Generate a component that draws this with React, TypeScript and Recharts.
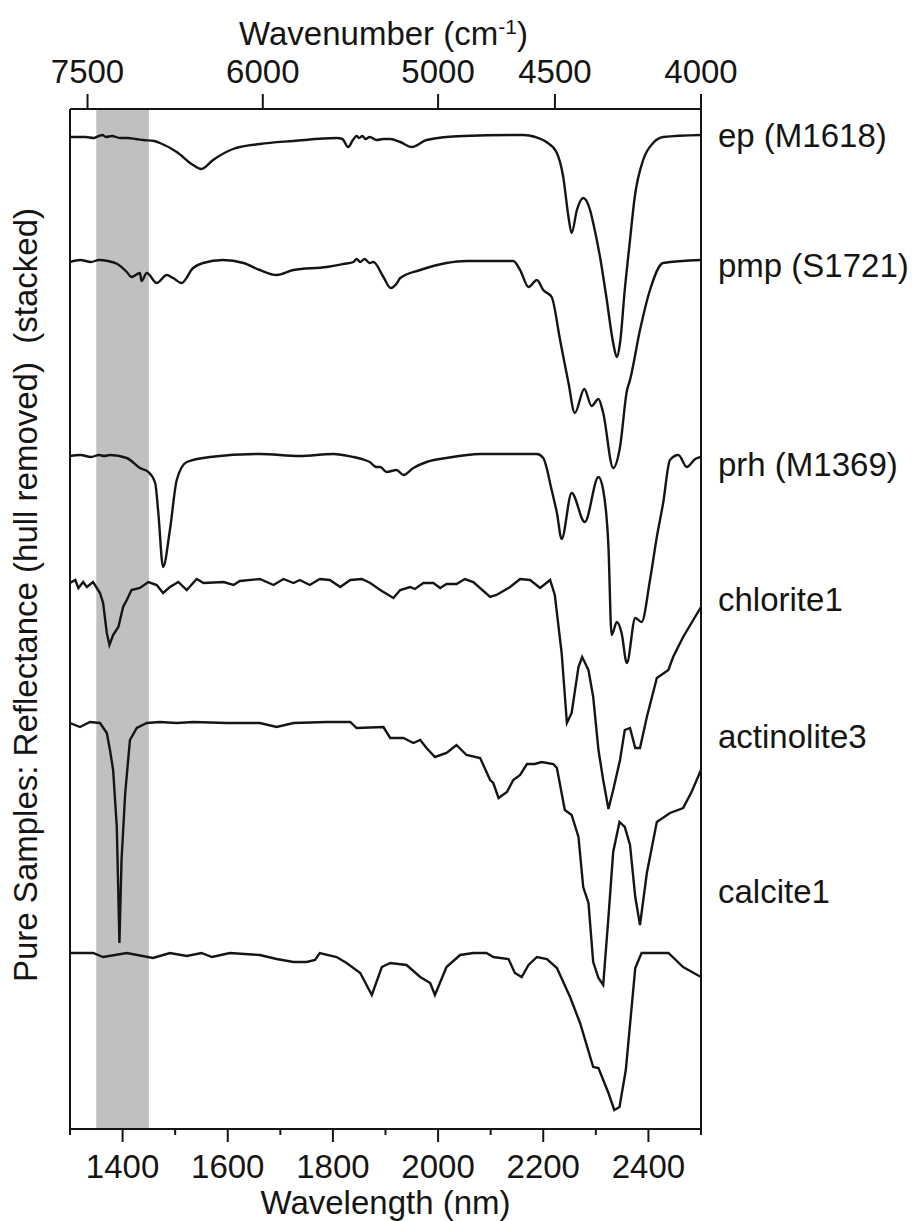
import React from 'react';
import { LineChart, Line, XAxis, YAxis, ReferenceArea, ReferenceDot } from 'recharts';

const FONT = '"Liberation Sans", Arial, Helvetica, sans-serif';
const INK = '#151515';

// ─── Data (wavelength nm, stacked hull-removed reflectance) ─────────────────

const ep: [number, number][] = [
    [1300, 9.92], [1315, 9.92], [1330, 9.92], [1345, 9.91], [1355, 9.93], [1362, 9.94], [1368, 9.92],
    [1380, 9.93], [1395, 9.91], [1410, 9.91], [1425, 9.9], [1440, 9.89], [1460, 9.88], [1471, 9.86],
    [1503, 9.77], [1534, 9.64], [1550, 9.6], [1572, 9.69], [1610, 9.8], [1661, 9.85], [1725, 9.88],
    [1807, 9.91], [1818, 9.9], [1829, 9.82], [1838, 9.89], [1845, 9.93], [1850, 9.91], [1856, 9.93],
    [1862, 9.9], [1870, 9.92], [1883, 9.89], [1896, 9.9], [1909, 9.9], [1928, 9.87], [1950, 9.82],
    [1978, 9.89], [2048, 9.93], [2162, 9.94], [2185, 9.92], [2206, 9.87], [2225, 9.77], [2238, 9.52],
    [2248, 9.12], [2254, 8.96], [2264, 9.19], [2276, 9.31], [2289, 9.19], [2295, 9.06], [2308, 8.72],
    [2320, 8.32], [2333, 7.86], [2340, 7.72], [2346, 7.86], [2355, 8.39], [2365, 8.89], [2374, 9.32],
    [2390, 9.69], [2409, 9.86], [2428, 9.92], [2500, 9.94],
];

const pmp: [number, number][] = [
    [1300, 8.67], [1320, 8.69], [1340, 8.67], [1355, 8.69], [1372, 8.68], [1390, 8.65], [1408, 8.57],
    [1417, 8.52], [1433, 8.56], [1436, 8.48], [1446, 8.56], [1465, 8.46], [1484, 8.54], [1496, 8.51],
    [1512, 8.46], [1534, 8.61], [1553, 8.66], [1591, 8.69], [1630, 8.66], [1661, 8.59], [1693, 8.54],
    [1725, 8.59], [1788, 8.62], [1820, 8.65], [1839, 8.67], [1845, 8.7], [1852, 8.67], [1860, 8.7],
    [1870, 8.66], [1877, 8.67], [1896, 8.52], [1910, 8.41], [1922, 8.46], [1928, 8.51], [1966, 8.59],
    [2016, 8.66], [2054, 8.68], [2143, 8.68], [2156, 8.59], [2172, 8.42], [2188, 8.49], [2200, 8.39],
    [2216, 8.32], [2232, 7.89], [2248, 7.46], [2260, 7.16], [2278, 7.4], [2292, 7.23], [2305, 7.3],
    [2314, 7.16], [2333, 6.61], [2346, 6.82], [2359, 7.38], [2365, 7.49], [2384, 7.99], [2403, 8.39],
    [2428, 8.66], [2500, 8.69],
];

const prh: [number, number][] = [
    [1300, 6.73], [1320, 6.74], [1340, 6.72], [1355, 6.74], [1365, 6.73], [1376, 6.74], [1408, 6.71],
    [1433, 6.61], [1449, 6.57], [1462, 6.46], [1468, 6.16], [1477, 5.62], [1490, 5.99], [1503, 6.49],
    [1522, 6.67], [1566, 6.72], [1661, 6.75], [1737, 6.73], [1801, 6.75], [1839, 6.72], [1855, 6.7],
    [1870, 6.67], [1883, 6.62], [1890, 6.62], [1902, 6.57], [1921, 6.59], [1934, 6.54], [1953, 6.61],
    [1978, 6.67], [2016, 6.71], [2080, 6.75], [2188, 6.75], [2200, 6.71], [2216, 6.39], [2226, 6.16],
    [2235, 5.9], [2254, 6.36], [2279, 6.07], [2305, 6.52], [2314, 6.39], [2324, 5.82], [2330, 4.94],
    [2340, 5.07], [2349, 4.96], [2359, 4.66], [2375, 5.11], [2387, 5.07], [2403, 5.49], [2416, 5.92],
    [2428, 6.26], [2441, 6.69], [2457, 6.74], [2473, 6.62], [2489, 6.7], [2500, 6.72],
];

const chlorite1: [number, number][] = [
    [1300, 5.46], [1310, 5.49], [1316, 5.41], [1325, 5.47], [1332, 5.42], [1344, 5.47], [1357, 5.36],
    [1363, 5.26], [1370, 4.96], [1375, 4.84], [1382, 4.94], [1392, 5.02], [1401, 5.22], [1408, 5.29],
    [1417, 5.39], [1433, 5.41], [1449, 5.47], [1465, 5.44], [1477, 5.36], [1490, 5.42], [1506, 5.47],
    [1522, 5.39], [1541, 5.5], [1554, 5.46], [1592, 5.47], [1611, 5.44], [1623, 5.48], [1661, 5.5],
    [1687, 5.44], [1706, 5.5], [1725, 5.46], [1737, 5.49], [1756, 5.44], [1775, 5.5], [1794, 5.49],
    [1814, 5.42], [1833, 5.49], [1855, 5.5], [1871, 5.46], [1890, 5.39], [1915, 5.31], [1928, 5.39],
    [1947, 5.42], [1956, 5.4], [1972, 5.46], [1991, 5.46], [2004, 5.41], [2016, 5.45], [2035, 5.45],
    [2051, 5.5], [2067, 5.47], [2099, 5.32], [2111, 5.34], [2137, 5.42], [2156, 5.5], [2175, 5.49],
    [2194, 5.41], [2213, 5.49], [2222, 5.34], [2235, 4.76], [2245, 4.06], [2254, 4.16], [2267, 4.62],
    [2274, 4.72], [2286, 4.59], [2295, 4.32], [2305, 3.79], [2314, 3.49], [2324, 3.2], [2333, 3.39],
    [2346, 3.69], [2355, 3.99], [2365, 4.01], [2375, 3.81], [2384, 3.81], [2397, 4.12], [2416, 4.51],
    [2438, 4.59], [2447, 4.72], [2466, 4.92], [2500, 5.22],
];

const actinolite3: [number, number][] = [
    [1300, 4.06], [1319, 4.02], [1338, 4.07], [1357, 4.06], [1370, 3.96], [1376, 3.79], [1382, 3.59],
    [1389, 3.02], [1394, 1.86], [1398, 2.69], [1405, 3.36], [1414, 3.89], [1427, 4.01], [1446, 4.06],
    [1471, 4.07], [1503, 4.06], [1535, 4.07], [1598, 4.06], [1661, 4.06], [1693, 4.02], [1725, 4.06],
    [1788, 4.07], [1833, 4.07], [1845, 4.01], [1896, 4.02], [1909, 3.91], [1934, 3.91], [1953, 3.86],
    [1966, 3.89], [1978, 3.81], [1994, 3.72], [2016, 3.76], [2035, 3.84], [2054, 3.74], [2080, 3.71],
    [2099, 3.49], [2105, 3.46], [2115, 3.31], [2131, 3.37], [2143, 3.49], [2156, 3.54], [2169, 3.65],
    [2184, 3.65], [2197, 3.67], [2219, 3.65], [2226, 3.61], [2241, 3.19], [2254, 3.14], [2267, 2.92],
    [2276, 2.42], [2286, 2.26], [2295, 1.67], [2305, 1.51], [2314, 1.44], [2324, 2.12], [2333, 2.77],
    [2345, 3.07], [2355, 3.02], [2365, 2.84], [2375, 2.32], [2384, 2.04], [2397, 2.56], [2416, 3.07],
    [2441, 3.16], [2466, 3.21], [2482, 3.37], [2500, 3.59],
];

const calcite1: [number, number][] = [
    [1300, 1.76], [1344, 1.76], [1363, 1.72], [1408, 1.76], [1458, 1.71], [1490, 1.76], [1522, 1.73],
    [1550, 1.76], [1570, 1.72], [1604, 1.76], [1661, 1.74], [1693, 1.7], [1725, 1.67], [1750, 1.67],
    [1766, 1.69], [1775, 1.76], [1807, 1.72], [1826, 1.66], [1852, 1.56], [1874, 1.34], [1893, 1.62],
    [1909, 1.66], [1940, 1.64], [1966, 1.52], [1985, 1.46], [1994, 1.34], [2016, 1.62], [2042, 1.74],
    [2067, 1.76], [2092, 1.76], [2105, 1.72], [2134, 1.7], [2146, 1.56], [2159, 1.52], [2172, 1.64],
    [2188, 1.72], [2207, 1.7], [2226, 1.61], [2251, 1.32], [2270, 1.06], [2295, 0.62], [2305, 0.61],
    [2324, 0.36], [2335, 0.19], [2345, 0.22], [2357, 0.59], [2375, 1.61], [2387, 1.76], [2438, 1.76],
    [2466, 1.62], [2500, 1.52],
];

const sampleNames = ['ep (M1618)', 'pmp (S1721)', 'prh (M1369)', 'chlorite1', 'actinolite3', 'calcite1'];
const labelLevels = [9.93, 8.63, 6.64, 5.29, 3.92, 2.37];
const smoothCurve = [true, true, true, false, false, false];

const wavelengthTicks = [1300, 1400, 1500, 1600, 1700, 1800, 1900, 2000, 2100, 2200, 2300, 2400, 2500];
const wavenumberTicks = [7500, 6000, 5000, 4500, 4000];
const waterBand = [1350, 1450];

const spectra = [ep, pmp, prh, chlorite1, actinolite3, calcite1].map((pts, i) => ({
    name: sampleNames[i],
    curve: smoothCurve[i] ? 'monotone' : 'linear',
    labelY: labelLevels[i],
    data: pts.map(([nm, r]) => ({ nm, r })),
}));

// ─── Ticks ────────────────────────────────────────────────────────────────────

const textStyle = { fontFamily: FONT, fontSize: 33, fill: INK };

const BottomTick = (props: any) => {
    const { x, y, payload } = props;
    const major = payload.value % 200 === 0;
    return (
        <g>
            <line x1={x} x2={x} y1={y} y2={y + (major ? 13 : 6)} stroke={INK} strokeWidth={2} />
            {major && (
                <text x={x} y={y + 49} textAnchor="middle" {...textStyle}>
                    {payload.value}
                </text>
            )}
        </g>
    );
};

const TopTick = (props: any) => {
    const { x, y, payload } = props;
    return (
        <g>
            <line x1={x} x2={x} y1={y} y2={y - 15} stroke={INK} strokeWidth={2} />
            <text x={x} y={y - 26} textAnchor="middle" {...textStyle}>
                {Math.round(1e7 / payload.value)}
            </text>
        </g>
    );
};

// ─── Component ────────────────────────────────────────────────────────────────

export default function App() {
    return (
        <div style={{ position: 'absolute', left: 0, top: 0, width: 912, height: 1221, background: '#fff' }}>
            <LineChart width={912} height={1221} margin={{ top: 69, right: 201, bottom: 52, left: 60 }}>
                <XAxis
                    xAxisId="nm"
                    dataKey="nm"
                    type="number"
                    domain={[1300, 2500]}
                    allowDataOverflow
                    ticks={wavelengthTicks}
                    interval={0}
                    height={40}
                    tickSize={0}
                    tickMargin={0}
                    tickLine={false}
                    axisLine={{ stroke: INK, strokeWidth: 2 }}
                    tick={(p: any) => <BottomTick {...p} />}
                    label={{
                        content: (p: any) => (
                            <text x={p.viewBox.x + p.viewBox.width / 2} y={p.viewBox.y + 85} textAnchor="middle" {...textStyle}>
                                Wavelength (nm)
                            </text>
                        ),
                    }}
                />
                <XAxis
                    xAxisId="wn"
                    dataKey="nm"
                    orientation="top"
                    type="number"
                    domain={[1300, 2500]}
                    allowDataOverflow
                    ticks={wavenumberTicks.map((w) => 1e7 / w)}
                    interval={0}
                    height={40}
                    tickSize={0}
                    tickMargin={0}
                    tickLine={false}
                    axisLine={{ stroke: INK, strokeWidth: 2 }}
                    tick={(p: any) => <TopTick {...p} />}
                    label={{
                        content: (p: any) => (
                            <text x={p.viewBox.x + p.viewBox.width / 2 - 2} y={p.viewBox.y - 24} textAnchor="middle" {...textStyle}>
                                Wavenumber (cm
                                <tspan dy={-11} fontSize={21}>-1</tspan>
                                <tspan dy={11}>)</tspan>
                            </text>
                        ),
                    }}
                />
                <YAxis
                    yAxisId="left"
                    type="number"
                    domain={[0, 10.2]}
                    allowDataOverflow
                    width={10}
                    tick={false}
                    tickLine={false}
                    axisLine={{ stroke: INK, strokeWidth: 2 }}
                    label={{
                        content: () => (
                            <text
                                x={37}
                                y={595}
                                transform="rotate(-90 37 595)"
                                textAnchor="middle"
                                style={{ whiteSpace: 'pre' }}
                                {...textStyle}
                            >
                                {'Pure Samples: Reflectance (hull removed)  (stacked)'}
                            </text>
                        ),
                    }}
                />
                <YAxis
                    yAxisId="right"
                    orientation="right"
                    type="number"
                    domain={[0, 10.2]}
                    allowDataOverflow
                    width={10}
                    tick={false}
                    tickLine={false}
                    axisLine={{ stroke: INK, strokeWidth: 2 }}
                />

                {/* Shaded band */}
                <ReferenceArea
                    xAxisId="nm"
                    yAxisId="left"
                    x1={waterBand[0]}
                    x2={waterBand[1]}
                    y1={0}
                    y2={10.2}
                    fill="#c0c0c0"
                    fillOpacity={1}
                    stroke="none"
                />

                {/* invisible helper so the top (wavenumber) axis gets a domain */}
                <Line
                    xAxisId="wn"
                    yAxisId="right"
                    data={spectra[0].data}
                    dataKey="r"
                    stroke="none"
                    strokeOpacity={0}
                    dot={false}
                    activeDot={false}
                    legendType="none"
                    isAnimationActive={false}
                />

                {spectra.map((s) => (
                    <Line
                        key={s.name}
                        xAxisId="nm"
                        yAxisId="left"
                        data={s.data}
                        dataKey="r"
                        type={s.curve as any}
                        stroke={INK}
                        strokeWidth={2.4}
                        dot={false}
                        activeDot={false}
                        isAnimationActive={false}
                    />
                ))}

                {spectra.map((s) => (
                    <ReferenceDot
                        key={`lbl-${s.name}`}
                        xAxisId="nm"
                        yAxisId="left"
                        x={2500}
                        y={s.labelY}
                        r={1}
                        fill="none"
                        stroke="none"
                        ifOverflow="visible"
                        label={{
                            content: (p: any) => (
                                <text x={p.viewBox.x + 18} y={p.viewBox.y + 12} textAnchor="start" {...textStyle}>
                                    {s.name}
                                </text>
                            ),
                        }}
                    />
                ))}
            </LineChart>
        </div>
    );
}
